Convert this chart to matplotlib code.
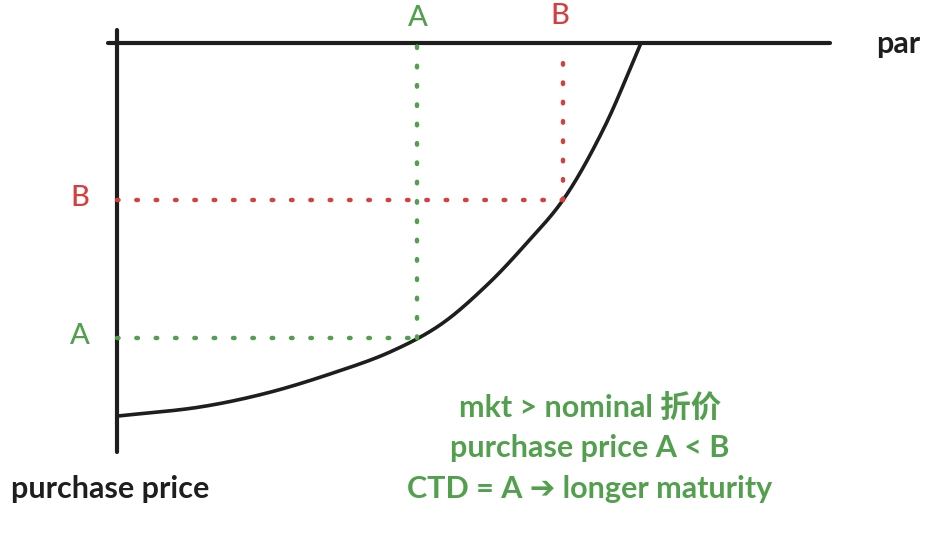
#!/usr/bin/env python3
import matplotlib
matplotlib.use("Agg")
import matplotlib.pyplot as plt
import numpy as np

# canvas coordinates (pixels, y grows downward)
CURVE_X = [118, 200, 267, 333, 390, 440, 487, 525, 563, 603, 641]
CURVE_Y = [416, 407, 393, 373, 352, 325, 285, 245, 200, 130, 43]

PAR_Y = 43
AXIS_X = 117
A_POINT = (417, 338)
B_POINT = (563, 200)

NOTE_LINES = ["mkt > nominal 折价", "purchase price A < B", "CTD = A ➔ longer maturity"]

BLACK = "#1e1e1e"
GREEN = "#52a04e"
RED = "#d43f3f"
FONT = ["Lato", "Noto Sans CJK SC", "DejaVu Sans"]


def smooth(xs, ys, steps=24, alpha=0.5):
    # centripetal catmull-rom through the sketch points, only for drawing
    pts = np.column_stack([xs, ys]).astype(float)
    pts = np.vstack([2 * pts[0] - pts[1], pts, 2 * pts[-1] - pts[-2]])
    out = []
    for i in range(1, len(pts) - 2):
        p0, p1, p2, p3 = pts[i - 1], pts[i], pts[i + 1], pts[i + 2]
        t0 = 0.0
        t1 = t0 + np.linalg.norm(p1 - p0) ** alpha
        t2 = t1 + np.linalg.norm(p2 - p1) ** alpha
        t3 = t2 + np.linalg.norm(p3 - p2) ** alpha
        for t in np.linspace(t1, t2, steps, endpoint=False):
            a1 = (t1 - t) / (t1 - t0) * p0 + (t - t0) / (t1 - t0) * p1
            a2 = (t2 - t) / (t2 - t1) * p1 + (t - t1) / (t2 - t1) * p2
            a3 = (t3 - t) / (t3 - t2) * p2 + (t - t2) / (t3 - t2) * p3
            b1 = (t2 - t) / (t2 - t0) * a1 + (t - t0) / (t2 - t0) * a2
            b2 = (t3 - t) / (t3 - t1) * a2 + (t - t1) / (t3 - t1) * a3
            out.append((t2 - t) / (t2 - t1) * b1 + (t - t1) / (t2 - t1) * b2)
    out.append(pts[-2])
    out = np.array(out)
    return out[:, 0], out[:, 1]


def main():
    fig = plt.figure(figsize=(9.36, 5.38), dpi=100)
    ax = fig.add_axes([0, 0, 1, 1])
    ax.set_xlim(0, 936)
    ax.set_ylim(538, 0)
    ax.axis("off")

    ax.plot([108, 830], [PAR_Y, PAR_Y], color=BLACK, lw=3.0, solid_capstyle="round")
    ax.plot([AXIS_X, AXIS_X], [30, 452], color=BLACK, lw=3.0, solid_capstyle="round")
    cx, cy = smooth(CURVE_X, CURVE_Y)
    ax.plot(cx, cy, color=BLACK, lw=2.6, solid_capstyle="round", solid_joinstyle="round")

    dots = dict(lw=3.2, linestyle=(0, (0.35, 4.0)), dash_capstyle="round")
    ax.plot([AXIS_X, A_POINT[0]], [A_POINT[1], A_POINT[1]], color=GREEN, **dots)
    ax.plot([A_POINT[0], A_POINT[0]], [A_POINT[1], PAR_Y], color=GREEN, **dots)
    ax.plot([AXIS_X, B_POINT[0]], [B_POINT[1], B_POINT[1]], color=RED, **dots)
    ax.plot([B_POINT[0], B_POINT[0]], [B_POINT[1], 52], color=RED, **dots)

    lab = dict(fontsize=21, ha="center", va="center", family=FONT, weight="medium")
    ax.text(80, A_POINT[1] - 2, "A", color=GREEN, **lab)
    ax.text(80, B_POINT[1] - 2, "B", color=RED, **lab)
    ax.text(418, 18, "A", color=GREEN, **lab)
    ax.text(560, 16, "B", color=RED, **lab)

    txt = dict(fontsize=22, ha="center", va="center", family=FONT, weight="bold")
    ax.text(898, 44, "par", color=BLACK, **txt)
    ax.text(110, 489, "purchase price", color=BLACK, **txt)

    for i, line in enumerate(NOTE_LINES):
        ax.text(590, 408 + i * 40.5, line, color=GREEN, **txt)

    fig.savefig("out.png", dpi=100)
    plt.close(fig)


if __name__ == "__main__":
    main()
